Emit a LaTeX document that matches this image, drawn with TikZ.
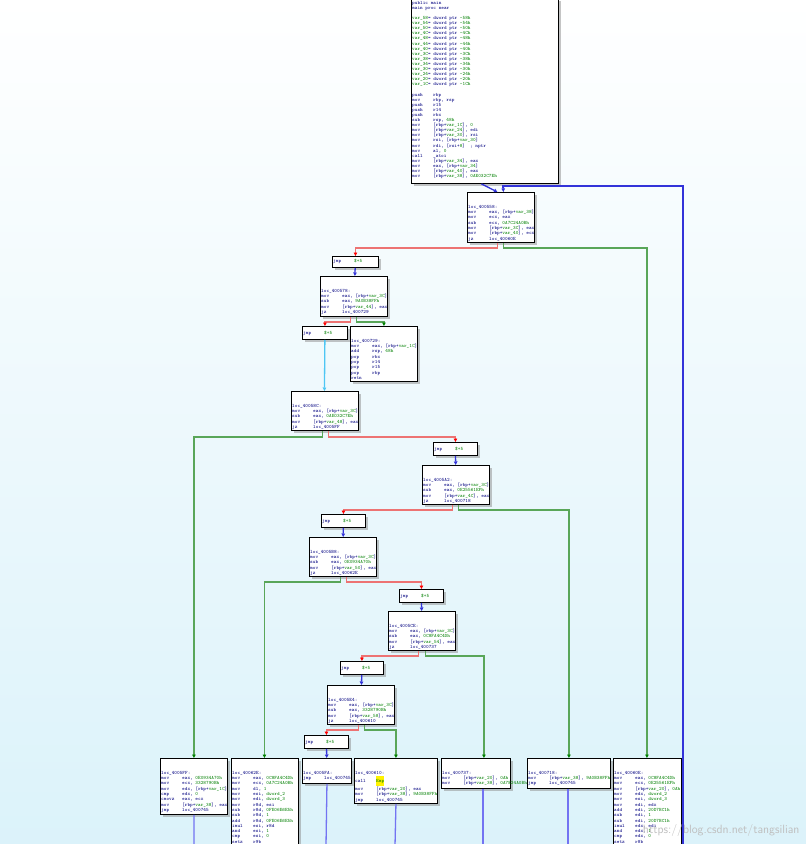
\documentclass[tikz,border=0pt]{standalone}
\usetikzlibrary{arrows.meta,shadows}
\definecolor{navy}{rgb}{0.0,0.0,0.5}
\definecolor{grn}{rgb}{0.0,0.5,0.0}
\definecolor{redge}{rgb}{0.93,0.45,0.45}
\definecolor{gedge}{rgb}{0.35,0.65,0.35}
\definecolor{bedge}{rgb}{0.2,0.2,0.85}
\definecolor{ledge}{rgb}{0.45,0.45,0.95}
\definecolor{bgblue}{rgb}{0.86,0.95,0.98}
\newcommand\gr[1]{\textcolor{grn}{#1}}
\newcommand\op[2]{\makebox[21pt][l]{#1}#2}
\tikzset{
  blk/.style={draw, line width=0.9pt, fill=white, inner sep=0pt, anchor=north west,
    drop shadow={shadow xshift=3pt, shadow yshift=-3pt, fill=black!45},
    append after command={[draw, line width=0.9pt]
      ([yshift=-8pt]\tikzlastnode.north west) -- ([yshift=-8pt]\tikzlastnode.north east)}},
  code/.style={anchor=north west, inner sep=0pt, align=left, text=navy,
    font=\fontsize{5}{5.3}\selectfont\ttfamily},
  tip/.style={-{Triangle[length=3.5pt,width=3.5pt]}},
  rline/.style={tip, draw=redge, line width=1.3pt, -{Triangle[length=3.5pt,width=3.5pt,fill=red,color=red]}},
  gline/.style={tip, draw=gedge, line width=1.3pt, -{Triangle[length=3.5pt,width=3.5pt,fill=grn,color=grn]}},
  bline/.style={tip, draw=bedge, line width=1.3pt},
}
\begin{document}
\begin{tikzpicture}[x=1pt,y=-1pt]
\useasboundingbox (0,0) rectangle (806,844);
\shade[top color=white, bottom color=bgblue] (0,0) rectangle (806,844);
% main
\node[draw, line width=0.9pt, fill=white, inner sep=0pt, anchor=north west,
  drop shadow={shadow xshift=3pt, shadow yshift=-3pt, fill=black!45},
  minimum width=147pt, minimum height=185pt] (b0) at (411,-2) {};
\node[code, font=\fontsize{5}{5.1}\selectfont\ttfamily] (b0t) at (412,1) {public main\\main proc near\\\mbox{}\\
\gr{var\_58}= dword ptr \gr{-58h}\\\gr{var\_54}= dword ptr \gr{-54h}\\\gr{var\_50}= dword ptr \gr{-50h}\\
\gr{var\_4C}= dword ptr \gr{-4Ch}\\\gr{var\_48}= dword ptr \gr{-48h}\\\gr{var\_44}= dword ptr \gr{-44h}\\
\gr{var\_40}= dword ptr \gr{-40h}\\\gr{var\_3C}= dword ptr \gr{-3Ch}\\\gr{var\_38}= dword ptr \gr{-38h}\\
\gr{var\_34}= dword ptr \gr{-34h}\\\gr{var\_30}= qword ptr \gr{-30h}\\\gr{var\_24}= dword ptr \gr{-24h}\\
\gr{var\_20}= dword ptr \gr{-20h}\\\gr{var\_1C}= dword ptr \gr{-1Ch}\\\mbox{}\\
\op{push}{rbp}\\\op{mov}{rbp, rsp}\\\op{push}{r15}\\\op{push}{r14}\\\op{push}{rbx}\\\op{sub}{rsp, \gr{48h}}\\
\op{mov}{[rbp+\gr{var\_1C}], \gr{0}}\\\op{mov}{[rbp+\gr{var\_24}], edi}\\\op{mov}{[rbp+\gr{var\_30}], rsi}\\
\op{mov}{rsi, [rbp+\gr{var\_30}]}\\\op{mov}{rdi, [rsi+\gr{8}]\quad; nptr}\\\op{mov}{al, \gr{0}}\\\op{call}{\_atoi}\\
\op{mov}{[rbp+\gr{var\_34}], eax}\\\op{mov}{eax, [rbp+\gr{var\_34}]}\\\op{mov}{[rbp+\gr{var\_40}], eax}\\
\op{mov}{[rbp+\gr{var\_38}], \gr{0AE032C7Eh}}};
% dispatcher
\node[blk, minimum width=67pt, minimum height=50pt] (b1) at (467,192) {};
\node[code] (b1t) at (468,205) {loc\_400558:\\\op{mov}{eax, [rbp+\gr{var\_38}]}\\\op{mov}{ecx, eax}\\
\op{sub}{ecx, \gr{0A7C24A0Bh}}\\\op{mov}{[rbp+\gr{var\_3C}], eax}\\\op{mov}{[rbp+\gr{var\_40}], ecx}\\\op{jz}{loc\_40060E}};
\node[blk, minimum width=46pt, minimum height=11pt] (j1) at (332,256) {};
\node[code] (j1t) at (333,259) {\op{jmp}{\gr{\$+5}}};
\node[blk, minimum width=67pt, minimum height=40pt] (b2) at (320,276) {};
\node[code] (b2t) at (321,289) {loc\_400578:\\\op{mov}{eax, [rbp+\gr{var\_3C}]}\\\op{sub}{eax, \gr{9A0B38FFh}}\\
\op{mov}{[rbp+\gr{var\_44}], eax}\\\op{jz}{loc\_400729}};
\node[blk, minimum width=45pt, minimum height=13pt] (j2) at (302,326) {};
\node[code] (j2t) at (303,331) {\op{jmp}{\gr{\$+5}}};
\node[blk, minimum width=67pt, minimum height=55pt] (b3) at (350,326) {};
\node[code] (b3t) at (351,339) {loc\_400729:\\\op{mov}{eax, [rbp+\gr{var\_1C}]}\\\op{add}{rsp, \gr{48h}}\\
\op{pop}{rbx}\\\op{pop}{r14}\\\op{pop}{r15}\\\op{pop}{rbp}\\retn};
\node[blk, minimum width=67pt, minimum height=39pt] (b4) at (291,391) {};
\node[code] (b4t) at (292,404) {loc\_40058C:\\\op{mov}{eax, [rbp+\gr{var\_3C}]}\\\op{sub}{eax, \gr{0AE032C7Eh}}\\
\op{mov}{[rbp+\gr{var\_48}], eax}\\\op{jz}{loc\_4005FF}};
\node[blk, minimum width=44pt, minimum height=13pt] (j3) at (433,442) {};
\node[code] (j3t) at (434,447) {\op{jmp}{\gr{\$+5}}};
\node[blk, minimum width=67pt, minimum height=39pt] (b5) at (422,465) {};
\node[code] (b5t) at (423,478) {loc\_4005A2:\\\op{mov}{eax, [rbp+\gr{var\_3C}]}\\\op{sub}{eax, \gr{0E25561EFh}}\\
\op{mov}{[rbp+\gr{var\_4C}], eax}\\\op{jz}{loc\_400718}};
\node[blk, minimum width=44pt, minimum height=13pt] (j4) at (321,514) {};
\node[code] (j4t) at (322,519) {\op{jmp}{\gr{\$+5}}};
\node[blk, minimum width=67pt, minimum height=39pt] (b6) at (309,537) {};
\node[code] (b6t) at (310,550) {loc\_4005B8:\\\op{mov}{eax, [rbp+\gr{var\_3C}]}\\\op{sub}{eax, \gr{0E0934A70h}}\\
\op{mov}{[rbp+\gr{var\_50}], eax}\\\op{jz}{loc\_40062E}};
\node[blk, minimum width=44pt, minimum height=13pt] (j5) at (399,589) {};
\node[code] (j5t) at (400,594) {\op{jmp}{\gr{\$+5}}};
\node[blk, minimum width=67pt, minimum height=39pt] (b7) at (388,611) {};
\node[code] (b7t) at (389,624) {loc\_4005CE:\\\op{mov}{eax, [rbp+\gr{var\_3C}]}\\\op{sub}{eax, \gr{0C8FA4C4Dh}}\\
\op{mov}{[rbp+\gr{var\_54}], eax}\\\op{jz}{loc\_400737}};
\node[blk, minimum width=43pt, minimum height=13pt] (j6) at (340,661) {};
\node[code] (j6t) at (341,666) {\op{jmp}{\gr{\$+5}}};
\node[blk, minimum width=67pt, minimum height=39pt] (b8) at (327,685) {};
\node[code] (b8t) at (328,698) {loc\_4005E4:\\\op{mov}{eax, [rbp+\gr{var\_3C}]}\\\op{sub}{eax, \gr{3328790Bh}}\\
\op{mov}{[rbp+\gr{var\_58}], eax}\\\op{jz}{loc\_400610}};
\node[blk, minimum width=44pt, minimum height=13pt] (j7) at (304,735) {};
\node[code] (j7t) at (305,740) {\op{jmp}{\gr{\$+5}}};
% cases
\node[blk, minimum width=67pt, minimum height=56pt] (ca) at (160,758) {};
\node[code] (cat) at (161,771) {loc\_4005FF:\\\op{mov}{eax, \gr{0E0934A70h}}\\\op{mov}{ecx, \gr{3328790Bh}}\\
\op{mov}{edx, [rbp+\gr{var\_1C}]}\\\op{cmp}{edx, \gr{0}}\\\op{cmovz}{eax, ecx}\\\op{mov}{[rbp+\gr{var\_38}], eax}\\\op{jmp}{loc\_400745}};
\node[blk, minimum width=67pt, minimum height=96pt] (cb) at (231,758) {};
\node[code] (cbt) at (232,771) {loc\_40062E:\\\op{mov}{eax, \gr{0C8FA4C4Dh}}\\\op{mov}{ecx, \gr{0A7C24A0Bh}}\\
\op{mov}{dl, \gr{1}}\\\op{mov}{esi, \gr{dword\_2}}\\\op{mov}{edi, \gr{dword\_3}}\\\op{mov}{r8d, esi}\\
\op{sub}{r8d, \gr{0FE06E6E5h}}\\\op{sub}{r8d, \gr{1}}\\\op{add}{r8d, \gr{0FE06E6E5h}}\\\op{imul}{esi, r8d}\\
\op{and}{esi, \gr{1}}\\\op{cmp}{esi, \gr{0}}\\\op{setz}{r9b}};
\node[blk, minimum width=49pt, minimum height=25pt] (cc) at (302,758) {};
\node[code] (cct) at (303,771) {loc\_4005FA:\\\op{jmp}{loc\_400745}};
\node[blk, minimum width=83pt, minimum height=45pt] (cd) at (354,758) {};
\node[code] (cdt) at (355,771) {loc\_400610:\\\op{call}{\colorbox{yellow}{\kern-3pt\gr{Emp}\kern-3pt}}\\
\op{mov}{[rbp+\gr{var\_20}], eax}\\\op{mov}{[rbp+\gr{var\_38}], \gr{9A0B38FFh}}\\\op{jmp}{loc\_400745}};
\node[blk, minimum width=69pt, minimum height=30pt] (ce) at (441,758) {};
\node[code] (cet) at (442,771) {loc\_400737:\\\op{mov}{[rbp+\gr{var\_20}], \gr{0Ah}}\\\op{mov}{[rbp+\gr{var\_38}], \gr{0A7E24A0Bh}}};
\node[blk, minimum width=83pt, minimum height=30pt] (cf) at (527,758) {};
\node[code] (cft) at (528,771) {loc\_400718:\\\op{mov}{[rbp+\gr{var\_38}], \gr{9A0B38FFh}}\\\op{jmp}{loc\_400745}};
\node[blk, minimum width=68pt, minimum height=96pt] (cg) at (613,758) {};
\node[code] (cgt) at (614,771) {loc\_40060E:\\\op{mov}{eax, \gr{0C8FA4C4Dh}}\\\op{mov}{ecx, \gr{0E25561EFh}}\\
\op{mov}{[rbp+\gr{var\_20}], \gr{0Ah}}\\\op{mov}{edx, \gr{dword\_2}}\\\op{mov}{esi, \gr{dword\_3}}\\\op{mov}{edi, edx}\\
\op{add}{edi, \gr{20D7BC1h}}\\\op{sub}{edi, \gr{1}}\\\op{sub}{edi, \gr{20D7BC1h}}\\\op{imul}{edx, edi}\\
\op{and}{edx, \gr{1}}\\\op{cmp}{edx, \gr{0}}\\\op{setz}{r8b}};
% free ends below the view
\coordinate (outa) at (194,846);
\coordinate (outc) at (326,846);
\coordinate (outd) at (395,846);
\coordinate (oute) at (483,846);
\coordinate (outf) at (568,846);
\coordinate (loopin) at (683,846);
% edges
\draw[bline] ([xshift=-3.5pt]b0.south) -- ([xshift=-3.5pt]b1.north);
\draw[bline, line width=1.8pt] (loopin) |- (503,186) -- ([xshift=2.5pt]b1.north);
\draw[rline] ([xshift=-3.5pt]b1.south) -- ++(0,5) -| (j1.north);
\draw[gline] ([xshift=2.5pt]b1.south) -- ++(0,5) -| ([xshift=-0.5pt]cg.north);
\draw[bline] (j1) -- (b2);
\draw[rline] ([xshift=-3.5pt]b2.south) -- ++(0,5) -| (j2.north);
\draw[gline] ([xshift=2.5pt]b2.south) -- ++(0,5) -| (b3.north);
\draw[tip, draw=cyan!70, line width=1.3pt, -{Triangle[length=3.5pt,width=3.5pt,color=cyan!70]}] (j2) -- ([xshift=-0.5pt]b4.north);
\draw[gline] ([xshift=-2.5pt]b4.south) -- ++(0,6) -| (ca.north);
\draw[rline] ([xshift=3.5pt]b4.south) -- ++(0,6) -| (j3.north);
\draw[bline] (j3) -- (b5);
\draw[rline] ([xshift=-3.5pt]b5.south) -- ++(0,5) -| (j4.north);
\draw[gline] ([xshift=2.5pt]b5.south) -- ++(0,5) -| (cf.north);
\draw[bline] (j4) -- (b6);
\draw[gline] ([xshift=-2.5pt]b6.south) -- ++(0,5) -| ([xshift=-0.5pt]cb.north);
\draw[rline] ([xshift=3.5pt]b6.south) -- ++(0,5) -| (j5.north);
\draw[bline] (j5) -- (b7);
\draw[rline] ([xshift=-3.5pt]b7.south) -- ++(0,5) -| (j6.north);
\draw[gline] ([xshift=3.5pt]b7.south) -- ++(0,5) -| ([xshift=8pt]ce.north);
\draw[bline] (j6) -- (b8);
\draw[rline] ([xshift=-2.5pt]b8.south) -- ++(0,5) -| (j7.north);
\draw[gline] ([xshift=3.5pt]b8.south) -- ++(0,5) -| (cd.north);
\draw[bline] (j7) -- (cc);
\draw[draw=ledge, line width=1.3pt] (ca.south) -- (outa);
\draw[draw=ledge, line width=1.3pt] (cc.south) -- (outc);
\draw[draw=ledge, line width=1.3pt] (cd.south) -- (outd);
\draw[draw=ledge, line width=1.3pt] (ce.south -| oute) -- (oute);
\draw[draw=ledge, line width=1.3pt] (cf.south -| outf) -- (outf);
\node[text=black!25, font=\sffamily\fontsize{12}{12}\selectfont, anchor=south east] (mark) at (803,840) {https://blog.csdn.net/tangsilian};
\end{tikzpicture}
\end{document}
